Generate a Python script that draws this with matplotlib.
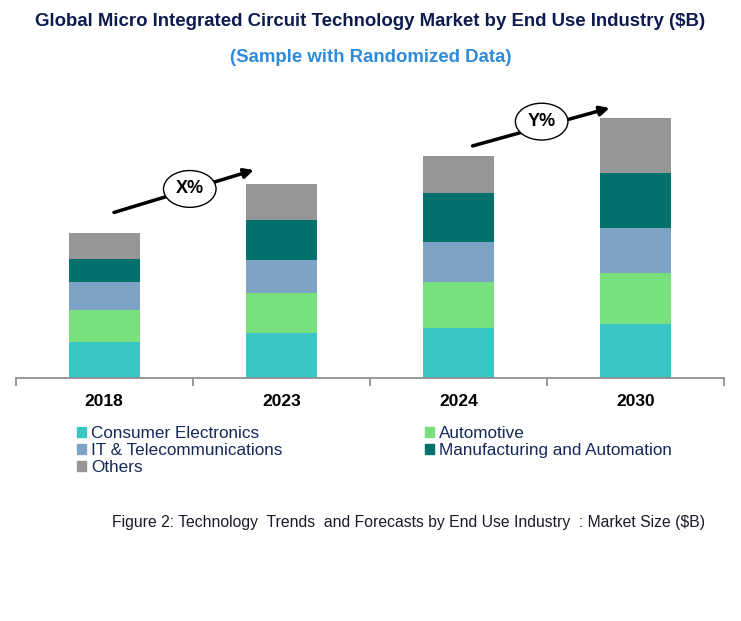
import numpy as np
import matplotlib
matplotlib.use("Agg")
from matplotlib import pyplot as plt
from matplotlib.patches import Patch

plt.rcParams['font.family'] = ['Liberation Sans', 'DejaVu Sans']

years = ['2018', '2023', '2024', '2030']
segments = ['Consumer Electronics', 'Automotive', 'IT & Telecommunications',
            'Manufacturing and Automation', 'Others']
consumer = [3.6, 4.5, 5.0, 5.4]
automotive = [3.2, 4.0, 4.6, 5.1]
it_telecom = [2.8, 3.3, 4.0, 4.5]
manufacturing = [2.3, 4.0, 4.9, 5.5]
others = [2.6, 3.6, 3.7, 5.5]
colors = ['#38C7C4', '#79E07E', '#7DA3C7', '#00726B', '#969696']

fig = plt.figure(figsize=(7.41, 6.21), dpi=100)
ax = fig.add_axes([0.0212, 0.3918, 0.9559, 0.4795])

x = np.arange(len(years))
bottom = np.zeros(len(years))
for name, vals, c in zip(segments, [consumer, automotive, it_telecom, manufacturing, others], colors):
    ax.bar(x, vals, 0.4, bottom=bottom, color=c, label=name)
    bottom += np.array(vals)

ax.set_xlim(-0.5, 3.5)
ax.set_ylim(0, 29.77)
for s in ['top', 'right', 'left']:
    ax.spines[s].set_visible(False)
ax.spines['bottom'].set_color('#888888')
ax.spines['bottom'].set_linewidth(1.2)
ax.set_yticks([])
ax.set_xticks(x)
ax.set_xticklabels(years, fontsize=12.5, fontweight='bold')
ax.tick_params(axis='x', which='major', length=0, pad=12)
ax.set_xticks(np.arange(-0.5, 4.0, 1.0), minor=True)
ax.tick_params(axis='x', which='minor', length=6, color='#888888', width=1.2)

# growth arrows
for (x0, y0, x1, y1, xc, yc, lab) in [(0.04, 16.44, 0.86, 20.84, 0.483, 18.87, 'X%'),
                                       (2.065, 23.1, 2.869, 27.04, 2.47, 25.6, 'Y%')]:
    ax.annotate('', xy=(x1, y1), xytext=(x0, y0),
                arrowprops=dict(arrowstyle='-|>', lw=2.5, color='black', mutation_scale=14),
                annotation_clip=False)
    ax.text(xc, yc, lab, ha='center', va='center', fontsize=13, fontweight='bold',
            bbox=dict(boxstyle='ellipse,pad=0.25', fc='white', ec='black', lw=1), zorder=5)

fig.text(0.5, 1 - 22 / 621, 'Global Micro Integrated Circuit Technology Market by End Use Industry ($B)',
         ha='center', va='center', fontsize=13.4, fontweight='bold', color='#0D1B4F')
fig.text(0.5, 1 - 57 / 621, '(Sample with Randomized Data)',
         ha='center', va='center', fontsize=13.4, fontweight='bold', color='#2E8BDA')

order = [0, 2, 4, 1, 3]
handles = [Patch(color=colors[i]) for i in order]
labels = [segments[i] for i in order]
fig.legend(handles, labels, ncol=2, loc='upper left', bbox_to_anchor=(70 / 741, 1 - 419 / 621),
           frameon=False, fontsize=12.3, handlelength=0.55, handleheight=0.55,
           handletextpad=0.3, labelspacing=0.12, columnspacing=8.3, borderaxespad=0,
           labelcolor='#14285A')

fig.text(705 / 741, 1 - 522 / 621,
         'Figure 2: Technology  Trends  and Forecasts by End Use Industry  : Market Size ($B)',
         ha='right', va='center', fontsize=11.3, color='#1a1a2a')

fig.savefig('out.png', dpi=100)
